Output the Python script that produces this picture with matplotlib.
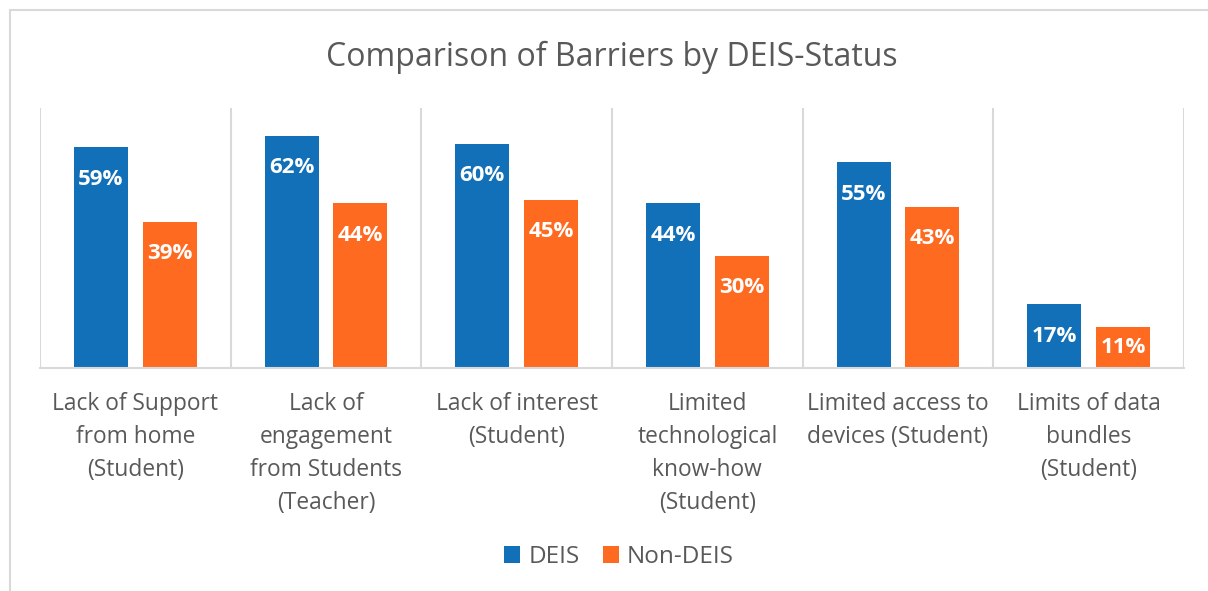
import matplotlib.pyplot as plt
import numpy as np
from matplotlib.patches import Rectangle

categories = [
    "Lack of Support\nfrom home\n(Student)",
    "Lack of\nengagement\nfrom Students\n(Teacher)",
    "Lack of interest\n(Student)",
    "Limited\ntechnological\nknow-how\n(Student)",
    "Limited access to\ndevices (Student)",
    "Limits of data\nbundles\n(Student)",
]
deis = [0.59, 0.62, 0.60, 0.44, 0.55, 0.17]
non_deis = [0.39, 0.44, 0.45, 0.30, 0.43, 0.11]
series_names = ["DEIS", "Non-DEIS"]

BLUE = "#1170B8"
ORANGE = "#FF6A21"
GREY_TEXT = "#595959"
GRID = "#D9D9D9"

plt.rcParams["font.family"] = ["Open Sans", "DejaVu Sans"]

fig = plt.figure(figsize=(12.08, 5.91), dpi=100)
ax = fig.add_axes([40 / 1208, 1 - 368 / 591, 1144 / 1208, 260 / 591])

# chart border (Excel style)
fig.patches.append(Rectangle((10 / 1208, -0.1), 1.2, 1.1 - 10 / 591,
                             transform=fig.transFigure, fill=False,
                             edgecolor=GRID, linewidth=1.5))

x = np.arange(len(categories))
width = 0.283
offset = 0.18
b1 = ax.bar(x - offset, deis, width, color=BLUE, label=series_names[0])
b2 = ax.bar(x + offset, non_deis, width, color=ORANGE, label=series_names[1])

for bars, vals in ((b1, deis), (b2, non_deis)):
    for bar, v in zip(bars, vals):
        y = v - min(0.085, v / 2)
        ax.text(bar.get_x() + bar.get_width() / 2, y, f"{v:.0%}",
                ha="center", va="center", color="white",
                fontsize=16, fontweight="bold")

ax.set_xlim(-0.5, len(categories) - 0.5)
ax.set_ylim(0, 0.695)
ax.set_yticks([])
for xv in np.arange(-0.5, len(categories), 1.0):
    ax.axvline(xv, color=GRID, linewidth=1.5, zorder=0)

for side in ("top", "right", "left"):
    ax.spines[side].set_visible(False)
ax.spines["bottom"].set_color(GRID)
ax.spines["bottom"].set_linewidth(1.5)

ax.set_xticks(x)
ax.set_xticklabels(categories, fontsize=16.4, color=GREY_TEXT, linespacing=1.5)
ax.tick_params(axis="x", length=0, pad=17)

fig.suptitle("Comparison of Barriers by DEIS-Status", x=612 / 1208, y=1 - 41 / 591,
             fontsize=23, color=GREY_TEXT)

leg = fig.legend(handles=[b1, b2], labels=series_names, loc="center",
                 bbox_to_anchor=(619 / 1208, 1 - 557 / 591), ncol=2, frameon=False,
                 fontsize=17.5, handlelength=0.66, handleheight=0.66,
                 handletextpad=0.33, columnspacing=0.95)
for t in leg.get_texts():
    t.set_color(GREY_TEXT)

fig.savefig("out.png", dpi=100)
